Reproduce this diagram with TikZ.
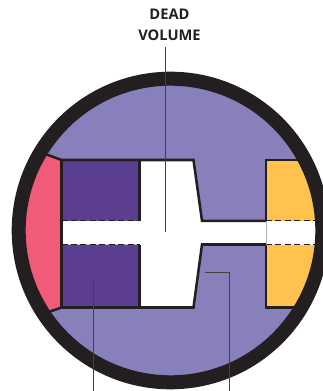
\documentclass[tikz,border=0pt]{standalone}
\usepackage{fontspec}
\setmainfont{Open Sans}
\usetikzlibrary{positioning}
\definecolor{ringblack}{HTML}{231F20}
\definecolor{gasviolet}{HTML}{8880BB}
\definecolor{pistonviolet}{HTML}{5B3E8F}
\definecolor{headpink}{HTML}{F15A78}
\definecolor{portyellow}{HTML}{FFC24F}
\begin{document}
\begin{tikzpicture}[x=0.75pt,y=-0.75pt,
  wall/.style={draw=ringblack,line width=1.9pt,line join=miter},
  seal/.style={draw=ringblack,line width=.8pt,dash pattern=on 4.5pt off 2.6pt},
  leader/.style={draw=ringblack!85!white,line width=.9pt},
  every node/.style={font=\bfseries\fontsize{11}{15.6}\selectfont,text=ringblack}]
\clip (0,0) rectangle (323,391);
\coordinate (c) at (170.5,230.5);
\coordinate (tl) at (61.5,160);
\coordinate (bl) at (61.5,307.5);
\coordinate (tm) at (139.5,160);
\coordinate (bm) at (139.5,307.5);
\coordinate (tn) at (193.5,160);
\coordinate (bn) at (193.5,307.5);
\coordinate (ni) at (202,220.8);
\coordinate (nj) at (202,244.5);
\coordinate (pa) at (266,220.8);
\coordinate (pb) at (266,244.5);
\coordinate (pc) at (266,160);
\coordinate (pd) at (266,307.5);
\coordinate (ea) at (46.7,154.5);
\coordinate (eb) at (49.6,311.7);
% chamber
\fill[gasviolet] (c) circle (146);
\begin{scope}
\clip (c) circle (146);
\fill[headpink] (ea)--(tl)--(bl)--(eb)--(0,311.7)--(0,154.5)--cycle;
\fill[portyellow] (pc) rectangle (323,307.5);
\fill[white] (pa) rectangle (323,244.5);
\draw[wall] (323,160)--(pc)--(pa);
\draw[wall] (323,307.5)--(pd)--(pb);
\draw[seal] (pa)--(323,220.8);
\draw[seal] (pb)--(323,244.5);
\end{scope}
\fill[pistonviolet] (tl) rectangle (bm);
\fill[white] (tm)--(tn)--(ni)--(pa)--(pb)--(nj)--(bn)--(bm)--(139.5,244.5)--(61.5,244.5)--(61.5,220.8)--(139.5,220.8)--cycle;
\draw[gray!60,line width=.4pt] (pa)--(pb);
\draw[wall] (ea)--(tl)--(tn)--(ni)--(pa);
\draw[wall] (eb)--(bl)--(bn)--(nj)--(pb);
\draw[wall] (tl)--(bl);
\draw[wall] (tm)--(139.5,220.8);
\draw[wall] (bm)--(139.5,244.5);
\draw[seal] (61.5,220.8)--(139.5,220.8);
\draw[seal] (61.5,244.5)--(139.5,244.5);
% ring
\draw[ringblack,line width=10.5pt] (c) circle (151.8);
% labels
\node[align=center,inner sep=0pt] (deadlabel) at (169.5,25) {DEAD\\VOLUME};
\coordinate (deadtop) at (165.7,47);
\coordinate (deadend) at (165.7,231.5);
\coordinate (pistonend) at (93.8,280);
\coordinate (pistonout) at (93.8,391);
\coordinate (gasend) at (204.5,272.7);
\coordinate (gasknee) at (229.5,272.7);
\coordinate (gasout) at (229.5,391);
\draw[leader] (deadtop)--(deadend);
\draw[leader] (pistonend)--(pistonout);
\draw[leader] (gasend)--(gasknee)--(gasout);
\end{tikzpicture}
\end{document}
